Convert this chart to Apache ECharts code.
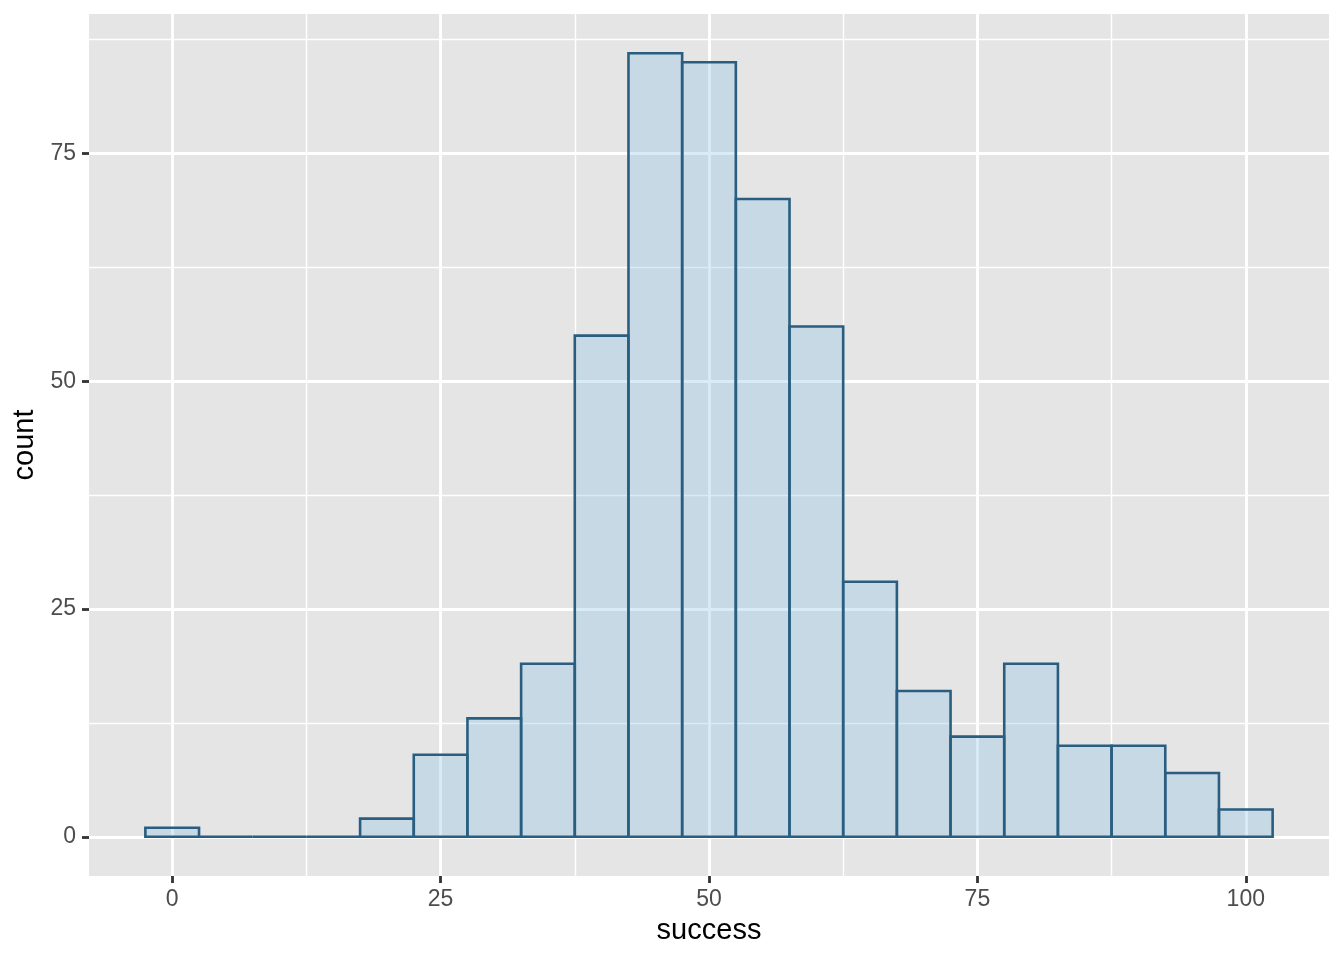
<!DOCTYPE html>
<html>
<head>
<meta charset="utf-8">
<script src="https://cdn.jsdelivr.net/npm/echarts@6/dist/echarts.min.js"></script>
<style>
html,body{margin:0;padding:0;background:#fff;}
#c{width:1344px;height:960px;}
</style>
</head>
<body>
<div id="c"></div>
<script>
// Histogram bins (binwidth 5), centers and counts
const binCenters = [0, 5, 10, 15, 20, 25, 30, 35, 40, 45, 50, 55, 60, 65, 70, 75, 80, 85, 90, 95, 100];
const counts     = [1, 0, 0, 0, 2, 9, 13, 19, 55, 86, 85, 70, 56, 28, 16, 11, 19, 10, 10, 7, 3];
const binWidth = 5;
const xTicks = [0, 25, 50, 75, 100];
const xMinor = [12.5, 37.5, 62.5, 87.5];
const yTicks = [0, 25, 50, 75];
const yMinor = [12.5, 37.5, 62.5, 87.5];

const xLo = binCenters[0] - binWidth / 2, xHi = binCenters[binCenters.length - 1] + binWidth / 2;
const xMin = xLo - 0.05 * (xHi - xLo), xMax = xHi + 0.05 * (xHi - xLo);
const cMax = Math.max.apply(null, counts);
const yMin = -0.05 * cMax, yMax = cMax * 1.05;

const FONT = 'Liberation Sans, Arial, Helvetica, sans-serif';
const chart = echarts.init(document.getElementById('c'), null, {renderer: 'canvas'});

const gridData = [];
xMinor.forEach(v => gridData.push({xAxis: v, lineStyle: {width: 1.4}}));
yMinor.forEach(v => gridData.push({yAxis: v, lineStyle: {width: 1.4}}));
xTicks.forEach(v => gridData.push({xAxis: v, lineStyle: {width: 2.8}}));
yTicks.forEach(v => gridData.push({yAxis: v, lineStyle: {width: 2.8}}));

chart.setOption({
  animation: false,
  grid: {left: 89, right: 15, top: 14, bottom: 84, show: true, backgroundColor: '#e5e5e5', borderWidth: 0},
  xAxis: {
    type: 'value', min: xMin, max: xMax,
    name: 'success', nameLocation: 'middle', nameGap: 40,
    nameTextStyle: {color: '#000', fontSize: 29, fontFamily: FONT},
    axisLine: {show: true, onZero: false, lineStyle: {color: 'rgba(0,0,0,0)', width: 0}},
    axisTick: {show: true, length: 7, lineStyle: {color: '#333', width: 2.8}, customValues: xTicks},
    axisLabel: {color: '#4d4d4d', fontSize: 23, margin: 12, fontFamily: FONT, customValues: xTicks},
    splitLine: {show: false}
  },
  yAxis: {
    type: 'value', min: yMin, max: yMax,
    name: 'count', nameLocation: 'middle', nameGap: 50, nameRotate: 90,
    nameTextStyle: {color: '#000', fontSize: 29, fontFamily: FONT},
    axisLine: {show: true, onZero: false, lineStyle: {color: 'rgba(0,0,0,0)', width: 0}},
    axisTick: {show: true, length: 7, lineStyle: {color: '#333', width: 2.8}, customValues: yTicks},
    axisLabel: {color: '#4d4d4d', fontSize: 23, margin: 13, fontFamily: FONT, customValues: yTicks},
    splitLine: {show: false}
  },
  series: [
    {
      type: 'line', data: [], z: 1, silent: true,
      markLine: {
        z: 1, silent: true, symbol: ['none', 'none'], label: {show: false},
        lineStyle: {color: '#ffffff', type: 'solid', opacity: 1},
        emphasis: {disabled: true},
        data: gridData
      }
    },
    {
      type: 'custom', z: 3,
      data: binCenters.map((c, i) => [c, counts[i]]),
      renderItem: function (params, api) {
        const c = api.value(0), n = api.value(1);
        const p0 = api.coord([c - binWidth / 2, n]);
        const p1 = api.coord([c + binWidth / 2, 0]);
        return {
          type: 'rect',
          shape: {x: p0[0], y: p0[1], width: p1[0] - p0[0], height: p1[1] - p0[1]},
          style: {fill: 'rgba(129,190,229,0.31)', stroke: '#2a5e80', lineWidth: 2.6}
        };
      }
    }
  ]
});
</script>
</body>
</html>
